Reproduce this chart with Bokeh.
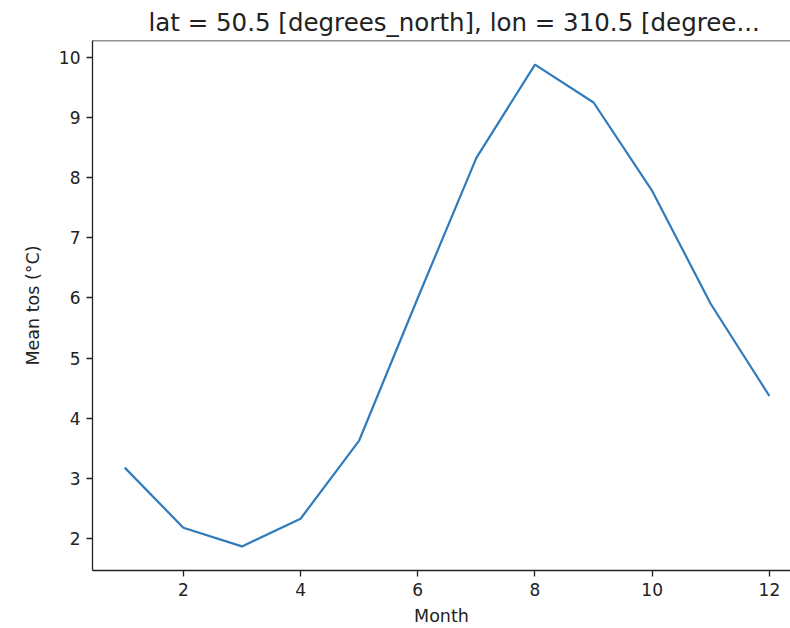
from bokeh.plotting import figure
from bokeh.models import Range1d, FixedTicker, Span
from bokeh.embed import file_html
from bokeh.resources import INLINE

months = [1, 2, 3, 4, 5, 6, 7, 8, 9, 10, 11, 12]
mean_tos = [3.18, 2.18, 1.87, 2.33, 3.63, 6.0, 8.33, 9.88, 9.25, 7.78, 5.90, 4.37]
x_ticks = [2, 4, 6, 8, 10, 12]
y_ticks = [2, 3, 4, 5, 6, 7, 8, 9, 10]
title_text = "lat = 50.5 [degrees_north], lon = 310.5 [degree..."

FONT = "DejaVu Sans"

xmin, xmax = min(months), max(months)
ymin, ymax = min(mean_tos), max(mean_tos)
xpad = 0.05 * (xmax - xmin)
ypad = 0.05 * (ymax - ymin)

p = figure(width=790, height=628, output_backend="svg", toolbar_location=None,
           x_range=Range1d(xmin - xpad, xmax + xpad - 0.19),
           y_range=Range1d(ymin - ypad, ymax + ypad),
           min_border_left=92, min_border_right=0, min_border_top=40, min_border_bottom=58)

p.title.text = title_text
p.title.align = "left"
p.title.offset = 56
p.title.standoff = 8
p.title.text_font = FONT
p.title.text_font_size = "24.5px"
p.title.text_font_style = "normal"
p.title.text_color = "#222222"

p.line(months, mean_tos, line_color="#2f7bbb", line_width=2.2)

p.grid.visible = False
p.outline_line_color = None
p.add_layout(Span(location=ymax + ypad, dimension="width", line_color="#222222", line_width=1.3))

for ax in (p.xaxis[0], p.yaxis[0]):
    ax.axis_line_color = "#222222"
    ax.axis_line_width = 1.3
    ax.major_tick_line_color = "#222222"
    ax.major_tick_line_width = 1.3
    ax.major_tick_out = 6
    ax.major_tick_in = 0
    ax.minor_tick_line_color = None
    ax.major_label_text_font = FONT
    ax.major_label_text_font_size = "17px"
    ax.major_label_text_color = "#222222"
    ax.axis_label_text_font = FONT
    ax.axis_label_text_font_size = "17.5px"
    ax.axis_label_text_font_style = "normal"
    ax.axis_label_text_color = "#222222"

p.xaxis.ticker = FixedTicker(ticks=x_ticks)
p.yaxis.ticker = FixedTicker(ticks=y_ticks)
p.xaxis.axis_label = "Month"
p.yaxis.axis_label = "Mean tos (°C)"
p.xaxis.major_label_standoff = 6
p.xaxis.axis_label_standoff = 7
p.yaxis.major_label_standoff = 6
p.yaxis.axis_label_standoff = 13
p.background_fill_color = "white"
p.border_fill_color = "white"

open("out.html", "w").write(file_html(p, INLINE))
